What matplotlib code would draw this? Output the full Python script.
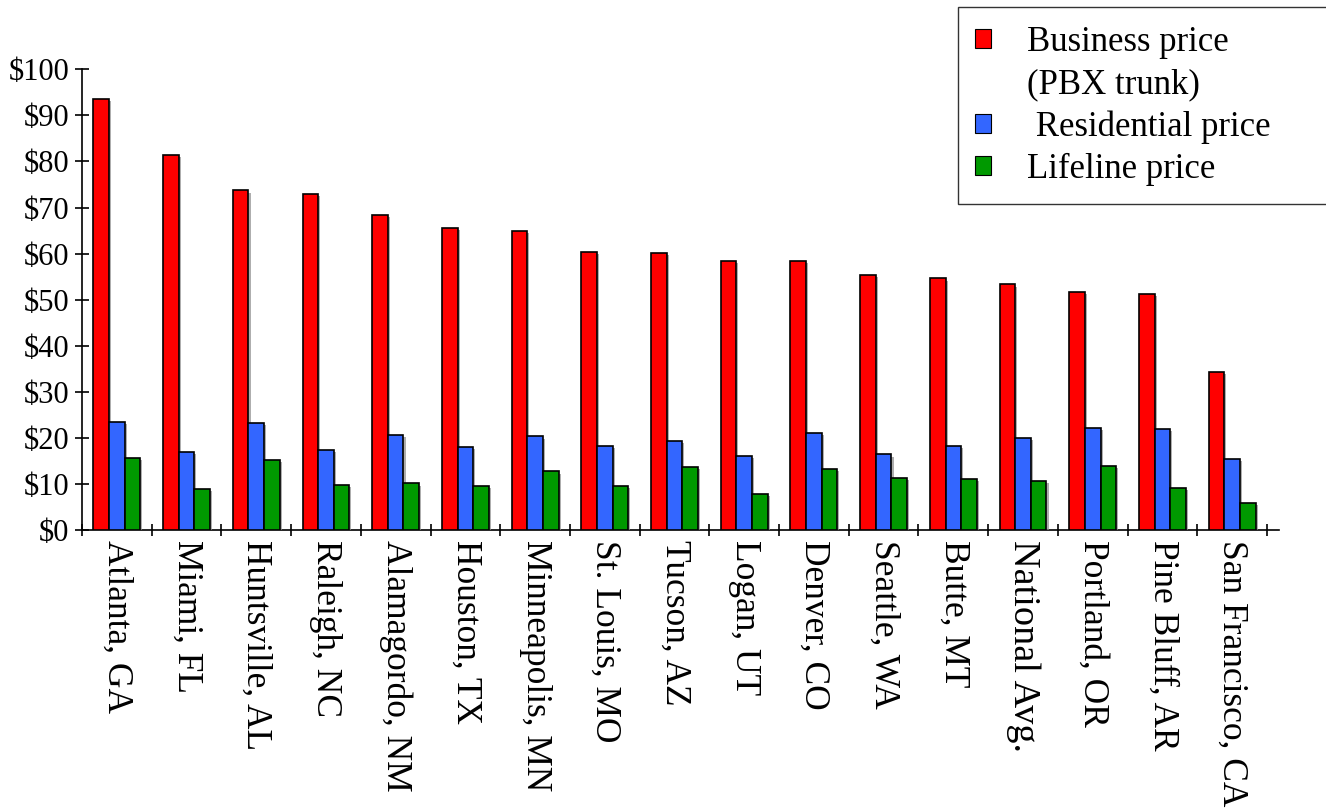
import numpy as np
import matplotlib
matplotlib.use("Agg")
import matplotlib.pyplot as plt
from matplotlib.patches import Patch, Rectangle
from matplotlib.ticker import FixedLocator, FuncFormatter
import matplotlib.patheffects as pe

cities = ["Atlanta, GA", "Miami, FL", "Huntsville, AL", "Raleigh, NC",
          "Alamagordo, NM", "Houston, TX", "Minneapolis, MN", "St. Louis, MO",
          "Tucson, AZ", "Logan, UT", "Denver, CO", "Seattle, WA", "Butte, MT",
          "National Avg.", "Portland, OR", "Pine Bluff, AR", "San Francisco, CA"]
business = [93.5, 81.5, 73.7, 72.9, 68.3, 65.5, 65.0, 60.3, 60.1, 58.3,
            58.3, 55.4, 54.6, 53.3, 51.7, 51.2, 34.4]
residential = [23.4, 17.0, 23.2, 17.3, 20.7, 18.1, 20.3, 18.2, 19.3, 16.0,
               21.1, 16.4, 18.2, 20.0, 22.1, 22.0, 15.5]
lifeline = [15.6, 8.9, 15.3, 9.8, 10.1, 9.5, 12.7, 9.6, 13.7, 7.9,
            13.2, 11.2, 11.0, 10.6, 14.0, 9.1, 5.9]
yticks = [0, 10, 20, 30, 40, 50, 60, 70, 80, 90, 100]

series = [("Business price", business, "#FF0000"),
          ("Residential price", residential, "#3366FF"),
          ("Lifeline price", lifeline, "#009900")]

plt.rcParams["font.family"] = ["Liberation Serif", "DejaVu Serif"]

W, H = 1326, 810
fig = plt.figure(figsize=(W / 100, H / 100), dpi=100)
ax = fig.add_axes([82 / W, 1 - 530 / H, (1279 - 82) / W, (530 - 69.3) / H])

x = np.arange(len(cities))
bw = 0.224
shadow = [pe.SimplePatchShadow(offset=(1.5, -1.5), shadow_rgbFace="0.55", alpha=0.7),
          pe.Normal()]
for i, (name, vals, col) in enumerate(series):
    bars = ax.bar(x + (i - 1) * bw, vals, width=bw, color=col,
                  edgecolor="black", linewidth=1.2, zorder=3)
    for b in bars:
        b.set_path_effects(shadow)

ax.set_xlim(-0.5, 16.5 + 12 / 69.7)
ax.set_ylim(0, 100)

for s in ("top", "right"):
    ax.spines[s].set_visible(False)
for s in ("left", "bottom"):
    ax.spines[s].set_linewidth(1.2)
    ax.spines[s].set_color("black")

ax.set_yticks(yticks)
ax.yaxis.set_major_formatter(FuncFormatter(lambda v, p: f"${v:g}"))
ax.tick_params(axis="y", direction="inout", length=10, width=1.2,
               labelsize=22, pad=4)

ax.set_xticks(x)
ax.set_xticklabels(cities, rotation=-90, ha="center", va="top")
ax.xaxis.set_minor_locator(FixedLocator(np.arange(-0.5, 17, 1.0)))
ax.tick_params(axis="x", which="major", length=0, labelsize=25.5, pad=7)
ax.tick_params(axis="x", which="minor", direction="inout", length=8, width=1.2)
for lab in ax.get_xticklabels():
    if lab.get_text() == "National Avg.":
        lab.set_fontsize(27.5)

# legend frame spans to the right edge of the figure
frame = Rectangle((958 / W, 1 - 204 / H), (1340 - 958) / W, (204 - 7) / H,
                  transform=fig.transFigure, facecolor="white",
                  edgecolor="#333333", linewidth=1.0, zorder=5, clip_on=False)
ax.add_artist(frame)

handles = [Patch(facecolor="#FF0000", edgecolor="black", linewidth=0.8),
           Patch(facecolor="none", edgecolor="none"),
           Patch(facecolor="#3366FF", edgecolor="black", linewidth=0.8),
           Patch(facecolor="#009900", edgecolor="black", linewidth=0.8)]
labels = ["Business price", "(PBX trunk)", " Residential price", "Lifeline price"]
leg = ax.legend(handles, labels, loc="upper left",
                bbox_to_anchor=(975 / W, 1 - 26 / H), bbox_transform=fig.transFigure,
                frameon=False, fontsize=25, handlelength=0.46, handleheight=0.46,
                handletextpad=1.04, labelspacing=0.26, borderpad=0, borderaxespad=0)
leg.set_zorder(10)

fig.savefig("out.png", dpi=100)
